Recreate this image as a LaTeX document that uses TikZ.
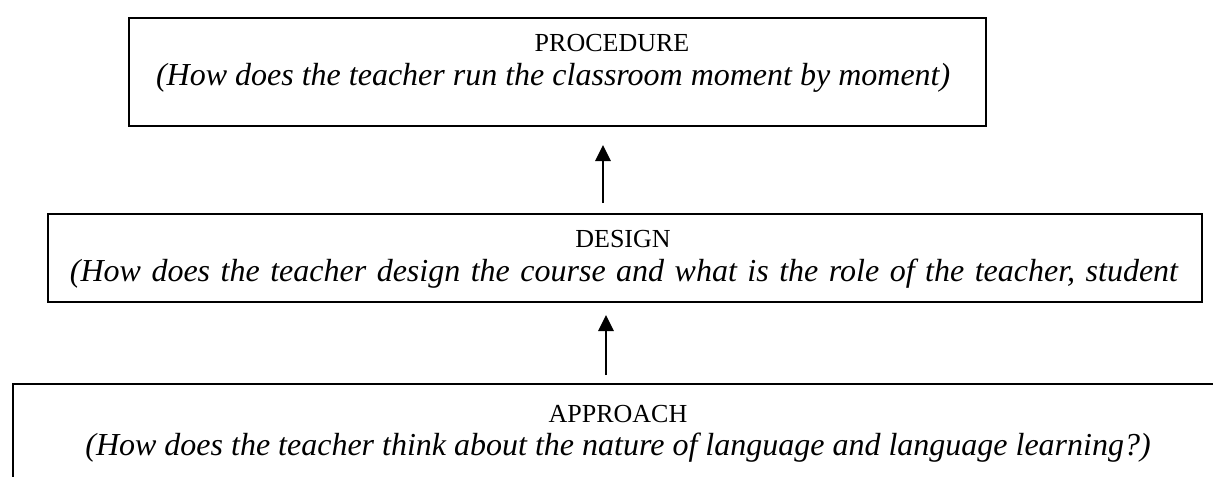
\documentclass[tikz,border=0pt]{standalone}
\usepackage{fontspec}
\setmainfont{Liberation Serif}
\usetikzlibrary{arrows.meta}

\begin{document}
\begin{tikzpicture}[x=0.5pt,y=-0.5pt,
    levelbox/.style={draw,line width=1pt,anchor=north west,inner sep=0pt},
    heading/.style={anchor=base,font=\fontsize{13}{15}\selectfont},
    question/.style={anchor=base,font=\fontsize{16}{19}\selectfont\itshape},
    uparrow/.style={line width=1.4pt,-{Triangle[length=8pt,width=7.5pt]}}]
    \useasboundingbox (0,0) rectangle (1213,476);
    \clip (0,0) rectangle (1213,476);

    \node[levelbox,minimum width=428.5pt,minimum height=54pt] (proc) at (128,17) {};
    \node[levelbox,minimum width=577pt,minimum height=44pt] (design) at (47,213) {};
    \node[levelbox,minimum width=614pt,minimum height=68.5pt] (approach) at (12,383) {};

    \node[heading] (procT) at (612,52) {PROCEDURE};
    \node[question,anchor=base west] (procQ) at (149,86) {(How does the teacher run the classroom moment by moment)};
    \node[heading] (designT) at (623,247) {DESIGN};
    \node[question] (designQ) at (624,281) {\spaceskip=5.25pt(How does the teacher design the course and what is the role of the teacher, student};
    \node[heading] (approachT) at (618,422) {APPROACH};
    \node[question] (approachQ) at (618,455) {(How does the teacher think about the nature of language and language learning?)};

    % arrows between the levels
    \coordinate (up1) at (603,0);
    \coordinate (up2) at (606,0);
    \draw[uparrow,shorten <=5pt,shorten >=9pt] (up1 |- design.north) -- (up1 |- proc.south);
    \draw[uparrow,shorten <=4pt,shorten >=6pt] (up2 |- approach.north) -- (up2 |- design.south);
\end{tikzpicture}
\end{document}
